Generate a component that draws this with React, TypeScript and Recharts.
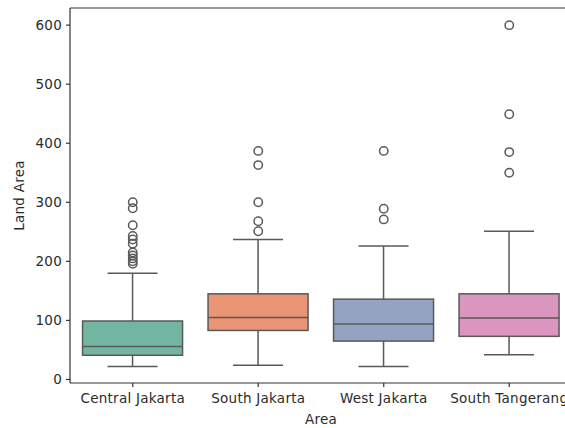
import React from "react";
import {
  ComposedChart,
  Bar,
  Scatter,
  XAxis,
  YAxis,
  ReferenceLine,
  Label,
} from "recharts";

// Box statistics per area
const areas = ["Central Jakarta", "South Jakarta", "West Jakarta", "South Tangerang"];
const whiskerLow = [22, 24, 22, 42];
const q1 = [41, 83, 65, 73];
const median = [56, 105, 94, 104];
const q3 = [99, 145, 136, 145];
const whiskerHigh = [180, 237, 226, 251];

// Points beyond the whiskers
const outliers: number[][] = [
  [300, 290, 261, 243, 237, 230, 215, 210, 205, 200, 196],
  [387, 363, 300, 268, 251],
  [387, 289, 271],
  [600, 449, 385, 350],
];

const fills = ["#71b6a0", "#e99575", "#95a3c3", "#db96c0"];
const yTicks = [0, 100, 200, 300, 400, 500, 600];

const Y_MIN = -6;
const Y_MAX = 629;
const LINE = "#595959";
const AXIS = "#333333";
const FONT = "DejaVu Sans";

const maxOutliers = Math.max(...outliers.map((o) => o.length));
const outlierKeys = Array.from({ length: maxOutliers }, (_, i) => `o${i}`);

const data = areas.map((area, i) => {
  const row: Record<string, unknown> = {
    area,
    range: [whiskerLow[i], whiskerHigh[i]],
    low: whiskerLow[i],
    q1: q1[i],
    median: median[i],
    q3: q3[i],
    high: whiskerHigh[i],
    fill: fills[i],
  };
  outliers[i].forEach((v, j) => {
    row[`o${j}`] = v;
  });
  return row;
});

// Draws whiskers, box and median from the bar spanning [low, high]
const BoxShape = (props: any) => {
  const { x, y, width, height, payload } = props;
  if (payload == null || !Number.isFinite(y) || !Number.isFinite(height)) return <g />;
  const { low, high } = payload;
  const toY = (v: number) => y + (height * (high - v)) / (high - low);
  const cx = x + width / 2;
  const capHalf = width / 4;
  const yq1 = toY(payload.q1);
  const yq3 = toY(payload.q3);
  const ymed = toY(payload.median);
  const ylow = toY(low);
  const yhigh = toY(high);
  return (
    <g>
      <line x1={cx} x2={cx} y1={yhigh} y2={yq3} stroke={LINE} strokeWidth={1.5} />
      <line x1={cx} x2={cx} y1={yq1} y2={ylow} stroke={LINE} strokeWidth={1.5} />
      <line x1={cx - capHalf} x2={cx + capHalf} y1={yhigh} y2={yhigh} stroke={LINE} strokeWidth={1.5} />
      <line x1={cx - capHalf} x2={cx + capHalf} y1={ylow} y2={ylow} stroke={LINE} strokeWidth={1.5} />
      <rect x={x} y={yq3} width={width} height={yq1 - yq3} fill={payload.fill} stroke={LINE} strokeWidth={1.5} />
      <line x1={x} x2={x + width} y1={ymed} y2={ymed} stroke={LINE} strokeWidth={1.5} />
    </g>
  );
};

const makeOutlierShape = (key: string) => (props: any) => {
  const { cx, cy, payload } = props;
  if (!payload || payload[key] == null || !Number.isFinite(cx) || !Number.isFinite(cy)) return <g />;
  return <circle cx={cx} cy={cy} r={4.2} fill="none" stroke={LINE} strokeWidth={1.5} />;
};

const tickStyle = { fontFamily: FONT, fontSize: 13.5, fill: "#2b2b2b", letterSpacing: 0.25 };

const YLabel = (props: any) => {
  const vb = props.viewBox || { x: 0, y: 8, width: 70, height: 375 };
  const x = vb.x + 24;
  const y = vb.y + vb.height / 2;
  return (
    <text
      x={x}
      y={y}
      transform={`rotate(-90, ${x}, ${y})`}
      textAnchor="middle"
      fontFamily={FONT}
      fontSize={13.5}
      letterSpacing={0.25}
      fill="#2b2b2b"
    >
      Land Area
    </text>
  );
};

export default function App() {
  return (
    <div
      style={{
        position: "absolute",
        left: 0,
        top: 0,
        width: 565,
        height: 428,
        overflow: "hidden",
        background: "#ffffff",
      }}
    >
      <ComposedChart
        width={575}
        height={428}
        data={data}
        margin={{ top: 8, right: 3, bottom: 15, left: 0 }}
        barCategoryGap="10%"
      >
        <XAxis
          dataKey="area"
          type="category"
          height={30}
          tickSize={4}
          tickMargin={6}
          tick={tickStyle}
          axisLine={{ stroke: AXIS, strokeWidth: 1.2 }}
          tickLine={{ stroke: AXIS, strokeWidth: 1.2 }}
        >
          <Label
            value="Area"
            position="bottom"
            offset={1}
            style={{ fontFamily: FONT, fontSize: 13.5, fill: "#2b2b2b", letterSpacing: 0.25 }}
          />
        </XAxis>
        <YAxis
          type="number"
          domain={[Y_MIN, Y_MAX]}
          ticks={yTicks}
          allowDataOverflow
          width={70}
          tickSize={4}
          tickMargin={4}
          tick={tickStyle}
          axisLine={{ stroke: AXIS, strokeWidth: 1.2 }}
          tickLine={{ stroke: AXIS, strokeWidth: 1.2 }}
        >
          <Label content={<YLabel />} position="left" />
        </YAxis>
        <ReferenceLine y={Y_MAX} stroke={AXIS} strokeWidth={1.2} />
        <Bar dataKey="range" shape={<BoxShape />} isAnimationActive={false} />
        {outlierKeys.map((key) => (
          <Scatter
            key={key}
            dataKey={key}
            shape={makeOutlierShape(key)}
            isAnimationActive={false}
          />
        ))}
      </ComposedChart>
    </div>
  );
}
